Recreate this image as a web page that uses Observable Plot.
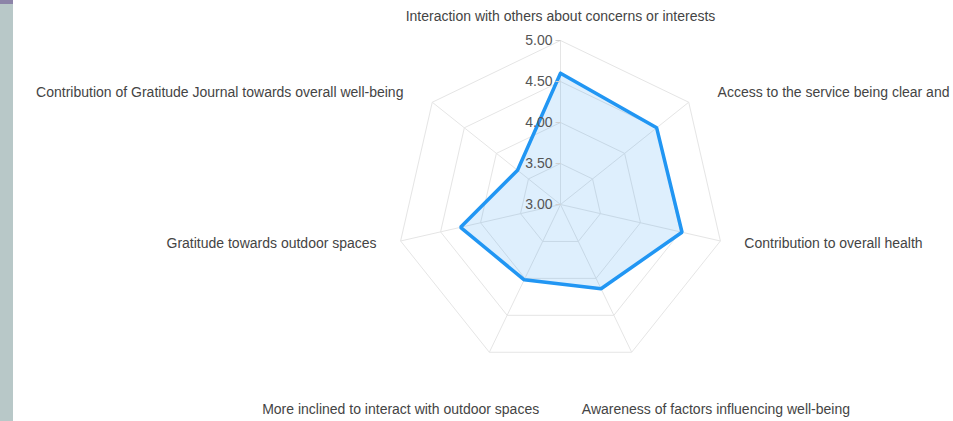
<!DOCTYPE html>
<html><head><meta charset="utf-8">
<script src="https://cdn.jsdelivr.net/npm/d3@7"></script>
<script src="https://cdn.jsdelivr.net/npm/@observablehq/plot@0.6"></script>
<style>
body{margin:0;background:#fff;}
#wrap{position:relative;width:953px;height:421px;overflow:hidden;}
#strip{position:absolute;left:0;top:0;width:13px;height:421px;background:#b8c8c8;}
#strip:before{content:"";position:absolute;left:0;top:0;width:13px;height:4px;background:#8c84a8;}
svg{font-family:"Liberation Sans",Arial,Helvetica,sans-serif;}
</style></head><body>
<div id="wrap"><div id="chart"></div><div id="strip"></div></div>
<script>
const categories = [
  "Interaction with others about concerns or interests",
  "Access to the service being clear and easy",
  "Contribution to overall health",
  "Awareness of factors influencing well-being",
  "More inclined to interact with outdoor spaces",
  "Gratitude towards outdoor spaces",
  "Contribution of Gratitude Journal towards overall well-being"
];
const values = [4.60, 4.50, 4.52, 4.14, 4.02, 4.25, 3.67];
const ringValues = [3.5, 4.0, 4.5, 5.0];
const tickValues = [3.0, 3.5, 4.0, 4.5, 5.0];
const tickLabels = ["3.00", "3.50", "4.00", "4.50", "5.00"];

const rMin = 3, rMax = 5;
const W = 953, H = 421, cx = 560, cy = 204, unit = 82;
const n = categories.length;
const ang = i => (2 * Math.PI * i) / n;
const px = (v, i) => (v - rMin) * Math.sin(ang(i));
const py = (v, i) => (v - rMin) * Math.cos(ang(i));

// data polygon (closed)
const poly = d3.range(n + 1).map(k => { const i = k % n; return {x: px(values[i], i), y: py(values[i], i)}; });
// grid rings
const rings = ringValues.flatMap(r => d3.range(n + 1).map(k => ({r, x: px(r, k % n), y: py(r, k % n)})));
// spokes
const spokes = categories.map((c, i) => ({x1: 0, y1: 0, x2: px(rMax, i), y2: py(rMax, i)}));
// ticks
const ticks = tickValues.map((t, j) => ({y: t - rMin, label: tickLabels[j]}));

// label placement rule by angle (offsets in pixels converted to scale units)
function place(i) {
  const a = ang(i), s = Math.sin(a), c = Math.cos(a);
  const anchor = Math.abs(s) < 1e-6 ? "middle" : s > 0 ? "start" : "end";
  if (Math.abs(s) < 1e-6) return {x: 0, y: 2.29, anchor};
  if (c < -0.8) return {x: Math.sign(s) * 0.26, y: -2.5, anchor};
  if (c > 0.3) return {x: 2.45 * s, y: 2.45 * c - 13 / unit, anchor};
  return {x: 2.3 * s, y: 2.3 * c + 3 / unit, anchor};
}
const labels = categories.map((name, i) => ({name, ...place(i)}));

const fontFamily = '"Liberation Sans", Arial, Helvetica, sans-serif';
const gridColor = "#e5e5e5";

const chart = Plot.plot({
  width: W, height: H,
  marginTop: 0, marginRight: 0, marginBottom: 0, marginLeft: 0,
  x: {domain: [-cx / unit, (W - cx) / unit], axis: null},
  y: {domain: [-(H - cy) / unit, cy / unit], axis: null},
  style: {fontFamily, background: "transparent", overflow: "visible"},
  marks: [
    Plot.line(rings, {x: "x", y: "y", z: "r", stroke: gridColor, strokeWidth: 1}),
    Plot.link(spokes, {x1: "x1", y1: "y1", x2: "x2", y2: "y2", stroke: gridColor, strokeWidth: 1}),
    Plot.line(poly, {x: "x", y: "y", fill: "rgba(33,150,243,0.15)", stroke: "#2196f3", strokeWidth: 3.5, strokeLinejoin: "miter"}),
    Plot.link(ticks, {x1: -5 / unit, x2: 0, y1: "y", y2: "y", stroke: "#d0d0d0"}),
    Plot.text(ticks, {x: 0, y: "y", text: "label", textAnchor: "end", dx: -8, fontSize: 14, fill: "#555"}),
    ...["start", "middle", "end"].map(anc =>
      Plot.text(labels.filter(d => d.anchor === anc), {x: "x", y: "y", text: "name", textAnchor: anc,
        fontSize: 14, fill: "#444"})
    )
  ]
});
document.getElementById("chart").append(chart);
</script>
</body></html>
